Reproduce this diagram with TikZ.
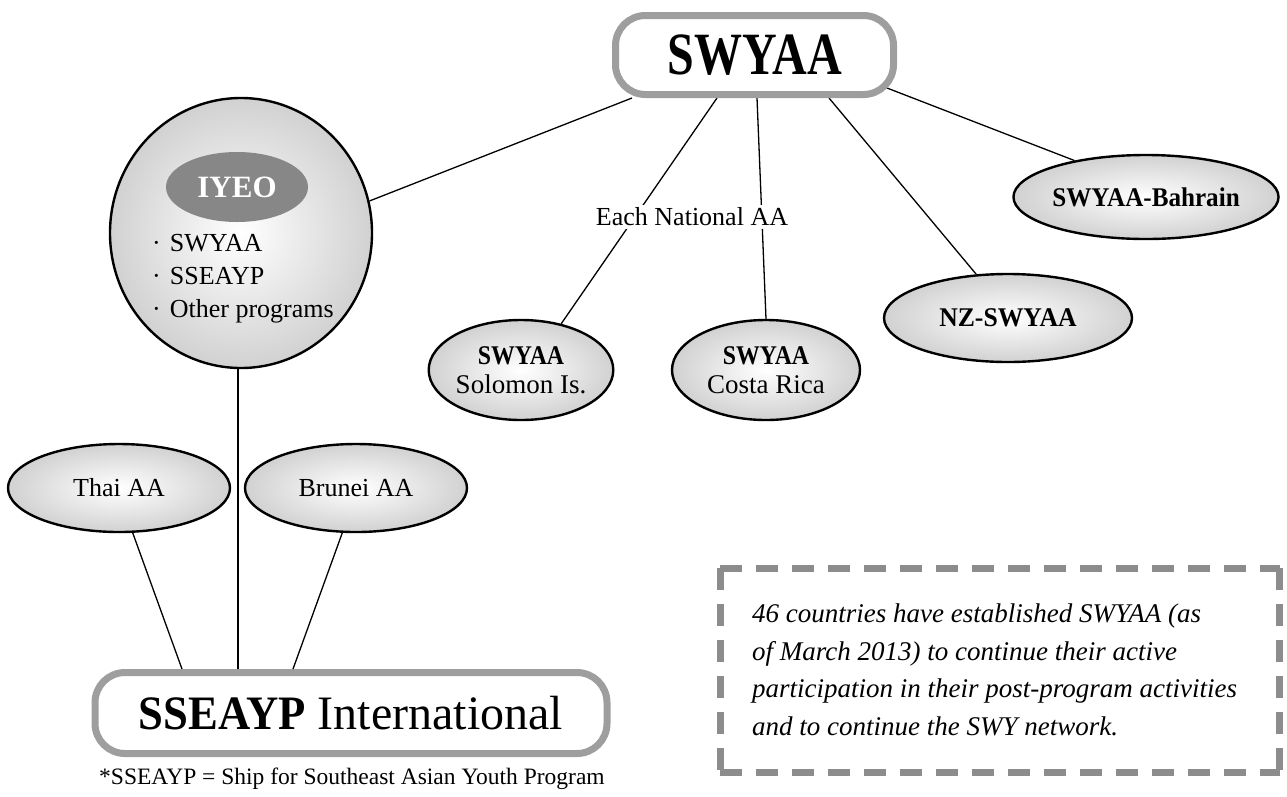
\documentclass[tikz,border=0pt]{standalone}
\usepackage{fontspec}
\usepackage{graphicx}
\setmainfont{Liberation Serif}
\usetikzlibrary{shapes.geometric,calc,backgrounds}
\newcommand{\fsz}[2]{\fontsize{#1}{#2}\selectfont}
\newcommand{\cnd}[2]{\scalebox{#1}[1]{#2}}
\begin{document}
\begin{tikzpicture}[x=1pt,y=-1pt,
  ell/.style={ellipse, draw=black, line width=2.4pt, inner sep=0pt,
    shading=radial, inner color=white, outer color=black!18, align=center},
  rbox/.style={draw=black!38, line width=7pt, rounded corners=30pt, fill=white, inner sep=0pt},
  conn/.style={draw=black, line width=1.3pt},
  dashbox/.style={draw=black!45, line width=7pt, dash pattern=on 22pt off 14pt},
  txt/.style={font=\fsz{26}{30}, inner sep=0pt}
]
\useasboundingbox (0,0) rectangle (1287,796);

% top box
\node[rbox, minimum width=278, minimum height=79] (swyaa) at (754.5,55)
  {\fsz{60}{60}\bfseries\cnd{0.8}{SWYAA}};

% IYEO ellipse
\node[ell, minimum width=262, minimum height=270] (iyeo) at (241,233) {};
\node[ellipse, fill=black!47, minimum width=142, minimum height=70, inner sep=0pt] (iyeolab) at (237,187)
  {\color{white}\fsz{31}{32}\bfseries IYEO};
\node[anchor=west, align=left, font=\fsz{26}{33}, inner sep=0pt] (iyeolist) at (152,279)
  {·\hspace{9pt}SWYAA\\·\hspace{9pt}SSEAYP\\·\hspace{9pt}Other programs};

% national AAs
\node[ell, minimum width=184, minimum height=100, font=\fsz{27}{29}] (sol) at (521,370)
  {{\bfseries\cnd{0.88}{SWYAA}}\\Solomon Is.};
\node[ell, minimum width=188, minimum height=100, font=\fsz{27}{29}] (costa) at (766,370)
  {{\bfseries\cnd{0.88}{SWYAA}}\\Costa Rica};
\node[ell, minimum width=248, minimum height=88, font=\fsz{27}{29}\bfseries] (nz) at (1008,318)
  {\cnd{0.95}{NZ-SWYAA}};
\node[ell, minimum width=262, minimum height=84, font=\fsz{27}{29}\bfseries] (bah) at (1146,197)
  {\cnd{0.93}{SWYAA-Bahrain}};

% Thai / Brunei
\node[ell, minimum width=222, minimum height=88, font=\fsz{26}{30}] (thai) at (119,488) {Thai AA};
\node[ell, minimum width=222, minimum height=88, font=\fsz{26}{30}] (brunei) at (356,488) {Brunei AA};

% bottom box
\node[rbox, minimum width=512, minimum height=81] (sseayp) at (351,713)
  {\fsz{48}{50}{\bfseries\cnd{0.93}{SSEAYP}} International};
\node[txt, font=\fsz{23.5}{28}] (note) at (352,779) {*SSEAYP = Ship for Southeast Asian Youth Program};

% dashed box
\node[minimum width=559, minimum height=204, inner sep=0pt] (dbox) at (1000,670.5) {};
\draw[dashbox] (dbox.north west) -- (dbox.north east);
\draw[dashbox] (dbox.north east) -- (dbox.south east);
\draw[dashbox] (dbox.south west) -- (dbox.south east);
\draw[dashbox] (dbox.north west) -- (dbox.south west);
\node[anchor=west, align=left, font=\itshape\fsz{27}{37.5}, inner sep=0pt] (dtext) at (752,670)
  {46 countries have established SWYAA (as\\of March 2013) to continue their active\\participation in their post-program activities\\and to continue the SWY network.};

% label on the lines
\node[txt, fill=white, inner sep=3pt] (each) at (692,217) {Each National AA};

% connectors
\begin{scope}[on background layer]
\draw[conn] ($(swyaa.south west)+(20,0)$) -- (iyeo.14);
\draw[conn] ($(swyaa.south west)+(105,0)$) -- (sol.49);
\draw[conn] ($(swyaa.south west)+(145,0)$) -- (costa.north);
\draw[conn] ($(swyaa.south west)+(217,0)$) -- (nz.126);
\draw[conn] ($(swyaa.south east)+(-10,-10)$) -- (bah.153);
\draw[conn] ($(iyeo.south)+(-3,0)$) -- ($(sseayp.north)+(-113,0)$);
\draw[conn] (thai.-73) -- ($(sseayp.north)+(-169,0)$);
\draw[conn] (brunei.-107) -- ($(sseayp.north)+(-58,0)$);
\end{scope}
\end{tikzpicture}
\end{document}
